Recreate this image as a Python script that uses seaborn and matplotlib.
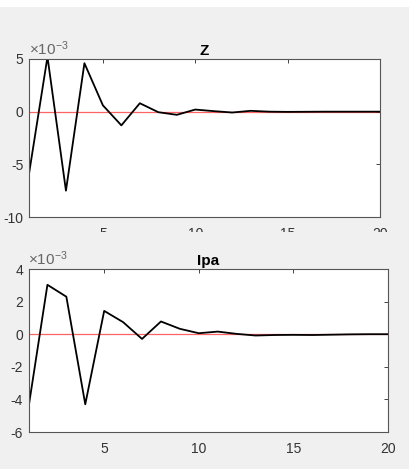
import numpy as np
import pandas as pd
import matplotlib
matplotlib.use("Agg")
import matplotlib.pyplot as plt
import seaborn as sns
from matplotlib.patches import Rectangle
from matplotlib.ticker import FuncFormatter

periods = list(range(1, 21))
z_vals = [-5.9, 5.2, -7.5, 4.6, 0.6, -1.3, 0.8, -0.05, -0.3, 0.2,
          0.05, -0.08, 0.08, 0.0, -0.02, -0.01, 0.0, 0.0, 0.0, 0.0]
ipa_vals = [-4.5, 3.03, 2.3, -4.3, 1.43, 0.74, -0.29, 0.78, 0.33, 0.06,
            0.16, 0.02, -0.08, -0.05, -0.04, -0.05, -0.03, -0.01, 0.0, 0.0]
titles = ["Z", "Ipa"]
scale = 1e-3

sns.set_style("white")
plt.rcParams["font.family"] = ["Liberation Sans", "DejaVu Sans"]
plt.rcParams["axes.unicode_minus"] = False
plt.rcParams["mathtext.fontset"] = "custom"
plt.rcParams["mathtext.rm"] = "Liberation Sans"
plt.rcParams["xtick.direction"] = "in"
plt.rcParams["ytick.direction"] = "in"

fig = plt.figure(figsize=(4.10, 4.69), dpi=100)
fig.patch.set_facecolor("#f0f0f0")
fig.patches.append(Rectangle((0, 1 - 7 / 469), 1, 7 / 469, transform=fig.transFigure,
                             facecolor="white", edgecolor="none", zorder=-5))

ax1 = fig.add_axes([29 / 410, 1 - 217 / 469, 351 / 410, 158 / 469])
ax2 = fig.add_axes([28.5 / 410, 1 - 432 / 469, 359.5 / 410, 163 / 469])
ax2.set_zorder(2)
# cover the clipped region of the upper panel
fig.patches.append(Rectangle((0, 0), 1, 1 - 232 / 469, transform=fig.transFigure,
                             facecolor="#f0f0f0", edgecolor="none", zorder=1))

dfs = [pd.DataFrame({"t": periods, "v": np.array(z_vals) * scale}),
       pd.DataFrame({"t": periods, "v": np.array(ipa_vals) * scale})]
ylims = [(-10e-3, 5e-3), (-6e-3, 4e-3)]
yticks = [np.array([-10, -5, 0, 5]) * scale, np.array([-6, -4, -2, 0, 2, 4]) * scale]

axis_col = "#262626"
yfmt = FuncFormatter(lambda v, p: f"{round(v / scale):d}")
for ax, df, title, yl, yt in zip([ax1, ax2], dfs, titles, ylims, yticks):
    ax.set_facecolor("white")
    sns.lineplot(data=df, x="t", y="v", ax=ax, color="black", linewidth=1.3)
    ax.axhline(0, color="#ff3030", linewidth=0.9, alpha=0.75, zorder=1)
    ax.set_xlim(1, 20)
    ax.set_ylim(*yl)
    ax.set_xticks([5, 10, 15, 20])
    ax.set_yticks(yt)
    ax.yaxis.set_major_formatter(yfmt)
    ax.text(0.0, 1.005, r"$\times\mathregular{10^{-3}}$", transform=ax.transAxes,
            ha="left", va="bottom", fontsize=11, color="#666666")
    ax.set_xlabel("")
    ax.set_ylabel("")
    ax.set_title(title, fontsize=11, fontweight="bold", pad=3, color="black")
    ax.tick_params(axis="both", which="both", direction="in", length=3, width=0.6,
                   colors=axis_col, labelsize=10, top=True, right=True,
                   labelcolor="#333333")
    ax.tick_params(axis="x", pad=7)
    ax.tick_params(axis="y", pad=4)
    for sp in ax.spines.values():
        sp.set_color("#555555")
        sp.set_linewidth(0.8)
        sp.set_visible(True)

fig.savefig("out.png", dpi=100, facecolor=fig.get_facecolor())
